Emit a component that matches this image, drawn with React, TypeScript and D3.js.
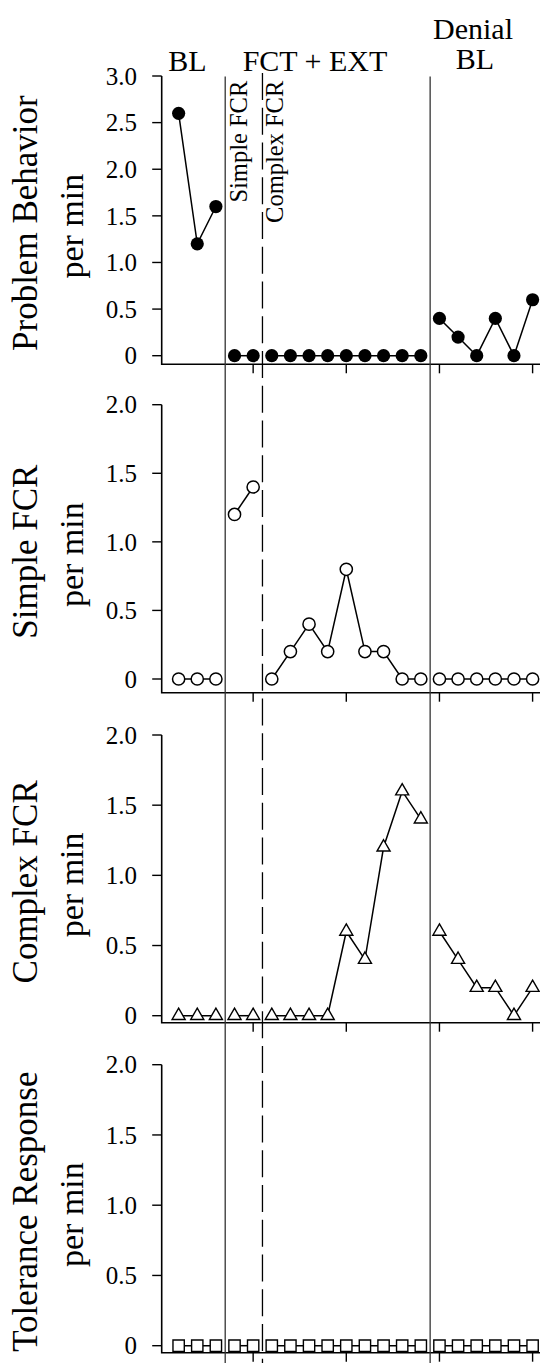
import React from "react";
import * as d3 from "d3";

const sessions = [1, 2, 3, 4, 5, 6, 7, 8, 9, 10, 11, 12, 13, 14, 15, 16, 17, 18, 19, 20];
const problemBehavior = [2.6, 1.2, 1.6, 0, 0, 0, 0, 0, 0, 0, 0, 0, 0, 0, 0.4, 0.2, 0, 0.4, 0, 0.6];
const simpleFCR = [0, 0, 0, 1.2, 1.4, 0, 0.2, 0.4, 0.2, 0.8, 0.2, 0.2, 0, 0, 0, 0, 0, 0, 0, 0];
const complexFCR = [0, 0, 0, 0, 0, 0, 0, 0, 0, 0.6, 0.4, 1.2, 1.6, 1.4, 0.6, 0.4, 0.2, 0.2, 0, 0.2];
const toleranceResponse = [0, 0, 0, 0, 0, 0, 0, 0, 0, 0, 0, 0, 0, 0, 0, 0, 0, 0, 0, 0];

const phaseSegments = [[1, 3], [4, 5], [6, 14], [15, 20]];
const phaseLines = [3.5, 14.5];
const conditionLine = 5.5;
const xTicks = [5, 10, 15, 20];
const yTicks1 = [0, 0.5, 1, 1.5, 2, 2.5, 3];
const yTicks1Labels = ["0", "0.5", "1.0", "1.5", "2.0", "2.5", "3.0"];
const yTicks2 = [0, 0.5, 1, 1.5, 2];
const yTicks2Labels = ["0", "0.5", "1.0", "1.5", "2.0"];

const FONT = "'Liberation Serif', 'Times New Roman', serif";

type Panel = {
  values: number[];
  max: number;
  ticks: number[];
  labels: string[];
  title: [string, string];
  marker: "filled" | "circle" | "triangle" | "square";
  top: number;
  zero: number;
  axis: number;
};

const panels: Panel[] = [
  { values: problemBehavior, max: 3, ticks: yTicks1, labels: yTicks1Labels, title: ["Problem Behavior", "per min"], marker: "filled", top: 76, zero: 355.7, axis: 364.3 },
  { values: simpleFCR, max: 2, ticks: yTicks2, labels: yTicks2Labels, title: ["Simple FCR", "per min"], marker: "circle", top: 404.7, zero: 679, axis: 692.7 },
  { values: complexFCR, max: 2, ticks: yTicks2, labels: yTicks2Labels, title: ["Complex FCR", "per min"], marker: "triangle", top: 735, zero: 1015.7, axis: 1022.7 },
  { values: toleranceResponse, max: 2, ticks: yTicks2, labels: yTicks2Labels, title: ["Tolerance Response", "per min"], marker: "square", top: 1064.7, zero: 1345.7, axis: 1352.7 },
];

const W = 540;
const H = 1363;
const axisX = 161.7;

export default function App() {
  const x = d3.scaleLinear().domain([0, 20]).range([160, 532.6]);
  const tri = d3.symbol().type(d3.symbolTriangle).size(74)();
  const sq = d3.symbol().type(d3.symbolSquare).size(128)();

  return (
    <svg width={W} height={H} style={{ position: "absolute", left: 0, top: 0, background: "#fff" }} fontFamily={FONT}>
      {/* header */}
      <text x={187.5} y={71} fontSize={30} textAnchor="middle">BL</text>
      <text x={315} y={71} fontSize={30} textAnchor="middle">FCT + EXT</text>
      <text x={473} y={38.5} fontSize={30} textAnchor="middle">Denial</text>
      <text x={475} y={69} fontSize={30} textAnchor="middle">BL</text>

      {/* condition labels */}
      <text transform={`translate(246.7,80.7) rotate(-90)`} fontSize={24.5} textAnchor="end">Simple FCR</text>
      <text transform={`translate(282.7,80.7) rotate(-90)`} fontSize={24.5} textAnchor="end">Complex FCR</text>

      {panels.map((p, pi) => {
        const y = d3.scaleLinear().domain([0, p.max]).range([p.zero, p.top]);
        const line = d3.line<number>().x((s) => x(s)).y((s) => y(p.values[s - 1]));
        const cy = (p.top + p.axis) / 2 + 3;
        return (
          <g key={pi}>
            {/* y axis title */}
            <text transform={`translate(36.5,${cy}) rotate(-90)`} fontSize={35} textAnchor="middle">{p.title[0]}</text>
            <text transform={`translate(83,${cy + 3}) rotate(-90)`} fontSize={34} textAnchor="middle">{p.title[1]}</text>
            {/* axes */}
            <path d={`M${axisX},${y(p.max)}V${p.axis}H${W}`} fill="none" stroke="#000" strokeWidth={1.6} />
            {p.ticks.map((t, i) => (
              <g key={t}>
                <line x1={axisX - 9.5} x2={axisX} y1={y(t)} y2={y(t)} stroke="#000" strokeWidth={1.4} />
                <text x={137} y={y(t)} dy="0.35em" fontSize={25} textAnchor="end">{p.labels[i]}</text>
              </g>
            ))}
            {xTicks.map((t) => (
              <line key={t} x1={x(t)} x2={x(t)} y1={p.axis} y2={p.axis + 9} stroke="#000" strokeWidth={1.4} />
            ))}
            {/* data lines */}
            {phaseSegments.map(([a, b], si) => (
              <path key={si} d={line(sessions.filter((s) => s >= a && s <= b)) || ""} fill="none" stroke="#000" strokeWidth={1.5} />
            ))}
            {/* markers */}
            {sessions.map((s) => {
              const px = x(s);
              const py = y(p.values[s - 1]);
              if (p.marker === "filled") return <circle key={s} cx={px} cy={py} r={6.6} fill="#000" />;
              if (p.marker === "circle") return <circle key={s} cx={px} cy={py} r={6.1} fill="#fff" stroke="#000" strokeWidth={1.5} />;
              if (p.marker === "triangle") return <path key={s} d={tri || ""} transform={`translate(${px},${py})`} fill="#fff" stroke="#000" strokeWidth={1.4} />;
              return <path key={s} d={sq || ""} transform={`translate(${px},${py})`} fill="#fff" stroke="#000" strokeWidth={1.4} />;
            })}
          </g>
        );
      })}

      {/* phase change lines */}
      {phaseLines.map((s) => (
        <line key={s} x1={x(s)} x2={x(s)} y1={76.5} y2={H} stroke="#333" strokeWidth={1.3} />
      ))}
      <line x1={x(conditionLine)} x2={x(conditionLine)} y1={73} y2={H} stroke="#000" strokeWidth={1.3} strokeDasharray="27,7.75" />
    </svg>
  );
}
